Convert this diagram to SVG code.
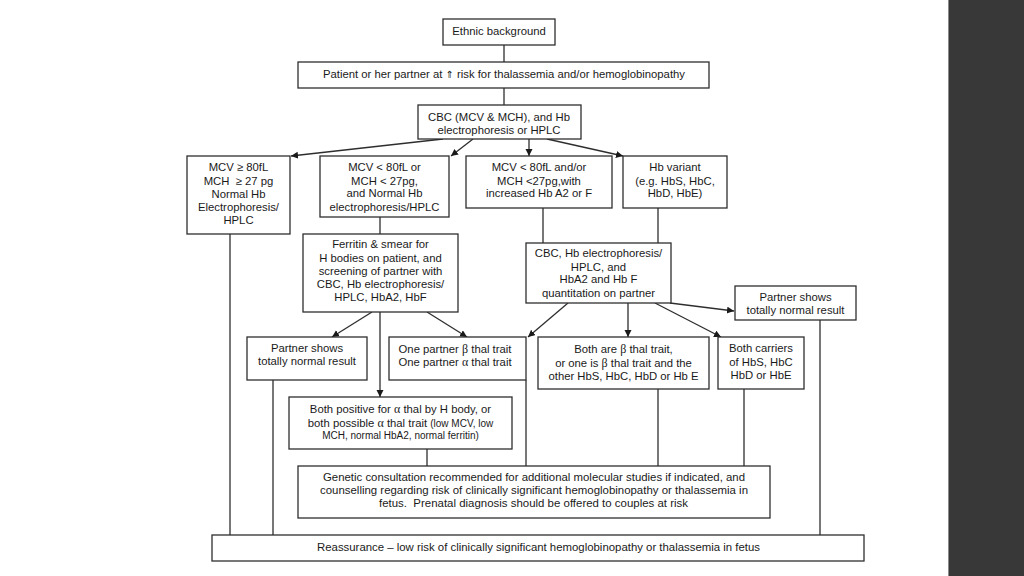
<svg xmlns="http://www.w3.org/2000/svg" width="1024" height="576" viewBox="0 0 1024 576">
<style>
.b{fill:#fff;stroke:#2e2e2e;stroke-width:1.3}
.t{font-family:"Liberation Sans",Arial,sans-serif;font-size:11.3px;fill:#1a1a1a;text-anchor:middle;white-space:pre}
.g{font-family:"Liberation Serif","Times New Roman",serif;font-size:12px}
.s{font-size:10px}
.c line,.c path{stroke:#2e2e2e;stroke-width:1.3;fill:none}
</style>
<defs>
<marker id="ah" markerUnits="userSpaceOnUse" markerWidth="8" markerHeight="8" refX="7" refY="3.5" orient="auto">
<path d="M0,0 L7,3.5 L0,7 z" fill="#1a1a1a"/>
</marker>
</defs>
<rect width="1024" height="576" fill="#fff"/>
<rect x="948" y="0" width="76" height="576" fill="#383838"/>
<line x1="948.5" y1="0" x2="948.5" y2="576" stroke="#8a8a8a" stroke-width="1"/>

<g class="c" id="connectors">
<line x1="504" y1="45" x2="504" y2="62"/>
<line x1="504" y1="88" x2="504" y2="105"/>
<path d="M443,139 L291,156" marker-end="url(#ah)"/>
<path d="M473,139 L451,156" marker-end="url(#ah)"/>
<path d="M529,139 L529,156" marker-end="url(#ah)"/>
<path d="M547,139 L623,156" marker-end="url(#ah)"/>
<line x1="380" y1="217" x2="380" y2="234"/>
<line x1="543" y1="208" x2="543" y2="243"/>
<line x1="658" y1="208" x2="658" y2="243"/>
<path d="M372,312 L332,337" marker-end="url(#ah)"/>
<path d="M380,312 L380,397" marker-end="url(#ah)"/>
<path d="M427,312 L467,337" marker-end="url(#ah)"/>
<path d="M568,303 L528,337" marker-end="url(#ah)"/>
<path d="M628,303 L628,337" marker-end="url(#ah)"/>
<path d="M655,303 L721,337" marker-end="url(#ah)"/>
<path d="M670,303 L734,311" marker-end="url(#ah)"/>
<line x1="230" y1="234" x2="230" y2="535"/>
<line x1="273" y1="380" x2="273" y2="535"/>
<line x1="820" y1="320" x2="820" y2="535"/>
<line x1="427" y1="449" x2="427" y2="466"/>
<line x1="526" y1="380" x2="526" y2="466"/>
<line x1="658" y1="389" x2="658" y2="466"/>
<line x1="744" y1="389" x2="744" y2="466"/>
</g>

<g id="ethnic"><rect class="b" x="443" y="19" width="112" height="26"/>
<text class="t" x="499" y="35">Ethnic background</text></g>

<g id="risk"><rect class="b" x="298" y="62" width="411" height="26"/>
<text class="t" x="504" y="78">Patient or her partner at <tspan font-family="DejaVu Sans" font-size="10">⇑</tspan> risk for thalassemia and/or hemoglobinopathy</text></g>

<g id="cbc"><rect class="b" x="418" y="105" width="163" height="34"/>
<text class="t" x="499" y="121">CBC (MCV &amp; MCH), and Hb</text>
<text class="t" x="499" y="134">electrophoresis or HPLC</text></g>

<g id="normal"><rect class="b" x="187" y="156" width="103" height="78"/>
<text class="t" x="238.5" y="171">MCV ≥ 80fL</text>
<text class="t" x="238.5" y="185">MCH  ≥ 27 pg</text>
<text class="t" x="238.5" y="198">Normal Hb</text>
<text class="t" x="238.5" y="211">Electrophoresis/</text>
<text class="t" x="238.5" y="224">HPLC</text></g>

<g id="lowmcv"><rect class="b" x="320" y="156" width="129" height="61"/>
<text class="t" x="384.5" y="171">MCV &lt; 80fL or</text>
<text class="t" x="384.5" y="185">MCH &lt; 27pg,</text>
<text class="t" x="384.5" y="197">and Normal Hb</text>
<text class="t" x="384.5" y="211">electrophoresis/HPLC</text></g>

<g id="increased"><rect class="b" x="466" y="156" width="146" height="52"/>
<text class="t" x="539" y="171">MCV &lt; 80fL and/or</text>
<text class="t" x="539" y="185">MCH &lt;27pg,with</text>
<text class="t" x="539" y="197">increased Hb A2 or F</text></g>

<g id="variant"><rect class="b" x="623" y="156" width="104" height="52"/>
<text class="t" x="675" y="171">Hb variant</text>
<text class="t" x="675" y="185">(e.g. HbS, HbC,</text>
<text class="t" x="675" y="197">HbD, HbE)</text></g>

<g id="ferritin"><rect class="b" x="303" y="234" width="155" height="78"/>
<text class="t" x="380.5" y="248">Ferritin &amp; smear for</text>
<text class="t" x="380.5" y="262">H bodies on patient, and</text>
<text class="t" x="380.5" y="275">screening of partner with</text>
<text class="t" x="380.5" y="288">CBC, Hb electrophoresis/</text>
<text class="t" x="380.5" y="301">HPLC, HbA2, HbF</text></g>

<g id="partnerscreen"><rect class="b" x="526" y="243" width="145" height="60"/>
<text class="t" x="598.5" y="257">CBC, Hb electrophoresis/</text>
<text class="t" x="598.5" y="271">HPLC, and</text>
<text class="t" x="598.5" y="283">HbA2 and Hb F</text>
<text class="t" x="598.5" y="297">quantitation on partner</text></g>

<g id="normalright"><rect class="b" x="735" y="286" width="121" height="34"/>
<text class="t" x="795.5" y="301">Partner shows</text>
<text class="t" x="795.5" y="314">totally normal result</text></g>

<g id="normalleft"><rect class="b" x="247" y="337" width="120" height="43"/>
<text class="t" x="307" y="352">Partner shows</text>
<text class="t" x="307" y="365">totally normal result</text></g>

<g id="onepartner"><rect class="b" x="389" y="337" width="137" height="43"/>
<text class="t" x="455" y="353">One partner <tspan class="g">β</tspan> thal trait</text>
<text class="t" x="455" y="366">One partner <tspan class="g">α</tspan> thal trait</text></g>

<g id="bothbeta"><rect class="b" x="538" y="337" width="171" height="52"/>
<text class="t" x="623.5" y="353">Both are <tspan class="g">β</tspan> thal trait,</text>
<text class="t" x="623.5" y="367">or one is <tspan class="g">β</tspan> thal trait and the</text>
<text class="t" x="623.5" y="380">other HbS, HbC, HbD or Hb E</text></g>

<g id="carriers"><rect class="b" x="718" y="337" width="86" height="52"/>
<text class="t" x="761" y="352">Both carriers</text>
<text class="t" x="761" y="366">of HbS, HbC</text>
<text class="t" x="761" y="379">HbD or HbE</text></g>

<g id="bothalpha"><rect class="b" x="289" y="397" width="223" height="52"/>
<text class="t" x="400.5" y="413">Both positive for <tspan class="g">α</tspan> thal by H body, or</text>
<text class="t" x="400.5" y="427">both possible <tspan class="g">α</tspan> thal trait <tspan class="s">(low MCV, low</tspan></text>
<text class="t s" x="400.5" y="439">MCH, normal HbA2, normal ferritin)</text></g>

<g id="genetic"><rect class="b" x="298" y="466" width="472" height="52"/>
<text class="t" x="534" y="481" textLength="422" lengthAdjust="spacingAndGlyphs">Genetic consultation recommended for additional molecular studies if indicated, and</text>
<text class="t" x="534" y="494" textLength="428" lengthAdjust="spacingAndGlyphs">counselling regarding risk of clinically significant hemoglobinopathy or thalassemia in</text>
<text class="t" x="533.5" y="507" textLength="309" lengthAdjust="spacingAndGlyphs">fetus.  Prenatal diagnosis should be offered to couples at risk</text></g>

<g id="reassurance"><rect class="b" x="212" y="535" width="652" height="26"/>
<text class="t" x="538.5" y="551" textLength="443" lengthAdjust="spacingAndGlyphs">Reassurance – low risk of clinically significant hemoglobinopathy or thalassemia in fetus</text></g>
</svg>
